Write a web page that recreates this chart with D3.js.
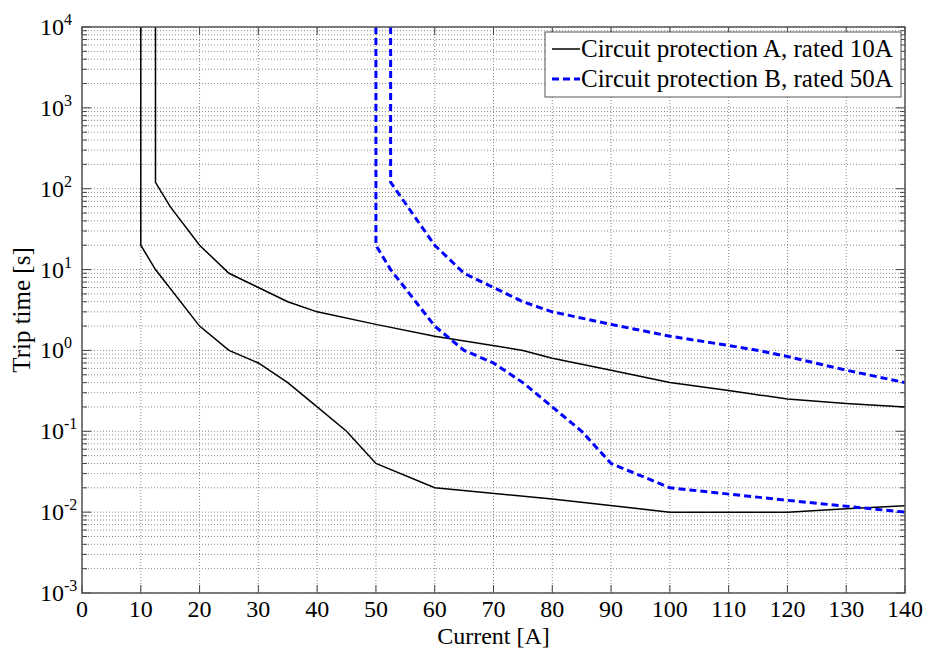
<!DOCTYPE html>
<html>
<head>
<meta charset="utf-8">
<script src="https://cdn.jsdelivr.net/npm/d3@7"></script>
<style>
  body { margin: 0; background: #fff; }
</style>
</head>
<body>
<svg width="925" height="648"></svg>
<script>
// breaker A, rated 10A: two bounding curves (current [A], trip time [s])
const aUpperCurrent = [12.5, 12.5, 15, 20, 25, 30, 35, 40, 50, 60, 75, 80, 90, 100, 110, 120, 130, 140]
const aUpperTime    = [1e4, 120, 60, 20, 9, 6, 4, 3, 2.1, 1.5, 1, 0.8, 0.57, 0.4, 0.32, 0.25, 0.22, 0.2]
const aLowerCurrent = [10, 10, 12.5, 20, 25, 30, 35, 40, 45, 50, 60, 80, 100, 120, 130, 140]
const aLowerTime    = [1e4, 20, 10, 2, 1, 0.7, 0.4, 0.2, 0.1, 0.04, 0.02, 0.0145, 0.01, 0.01, 0.011, 0.012]
// breaker B, rated 50A
const bUpperCurrent = [52.5, 52.5, 60, 65, 70, 75, 80, 90, 100, 110, 115, 120, 130, 140]
const bUpperTime    = [1e4, 120, 20, 9, 6, 4, 3, 2.1, 1.5, 1.15, 1, 0.84, 0.57, 0.4]
const bLowerCurrent = [50, 50, 52.5, 60, 65, 70, 75, 80, 85, 90, 100, 120, 140]
const bLowerTime    = [1e4, 20, 10, 2, 1, 0.7, 0.4, 0.2, 0.1, 0.04, 0.02, 0.014, 0.01]

const xTicks = d3.range(0, 141, 10)
const yDecades = [-3, -2, -1, 0, 1, 2, 3, 4]
const legendLabels = ['Circuit protection A, rated 10A', 'Circuit protection B, rated 50A']

const FONT = '"Liberation Serif"'

const svg = d3.select('svg')
const margin = {left: 82, top: 27, right: 20, bottom: 55}
const width = 925, height = 648

const xscale = d3.scaleLinear()
                 .domain([0, 140])
                 .range([margin.left, width - margin.right])
const yscale = d3.scaleLog()
                 .domain([1e-3, 1e4])
                 .range([height - margin.bottom, margin.top])

const x0 = xscale(0), x1 = xscale(140), y0 = yscale(1e-3), y1 = yscale(1e4)

// grid lines, dotted like matlab
const minorVals = []
yDecades.slice(0, -1).forEach(e => {
    for (let m = 1; m < 10; m++) minorVals.push(m * Math.pow(10, e))
})
minorVals.push(1e4)

const grid = svg.append('g')
grid.selectAll('.hgrid').data(minorVals).join('line')
    .attr('x1', x0).attr('x2', x1)
    .attr('y1', d => yscale(d)).attr('y2', d => yscale(d))
    .attr('stroke', '#8a8a8a').attr('stroke-width', 1)
    .attr('stroke-dasharray', '1,2')
grid.selectAll('.vgrid').data(xTicks).join('line')
    .attr('x1', d => xscale(d)).attr('x2', d => xscale(d))
    .attr('y1', y0).attr('y2', y1)
    .attr('stroke', '#8a8a8a').attr('stroke-width', 1)
    .attr('stroke-dasharray', '1,2')

// ticks on all four sides, inside
const ticks = svg.append('g').attr('stroke', '#444').attr('stroke-width', 1)
minorVals.forEach(v => {
    const lg10 = Math.log10(v)
    const major = Math.abs(lg10 - Math.round(lg10)) < 1e-9
    const len = major ? 9 : 5
    ticks.append('line').attr('x1', x0).attr('x2', x0 + len).attr('y1', yscale(v)).attr('y2', yscale(v))
    ticks.append('line').attr('x1', x1).attr('x2', x1 - len).attr('y1', yscale(v)).attr('y2', yscale(v))
})
xTicks.forEach(t => {
    ticks.append('line').attr('x1', xscale(t)).attr('x2', xscale(t)).attr('y1', y0).attr('y2', y0 - 8)
    ticks.append('line').attr('x1', xscale(t)).attr('x2', xscale(t)).attr('y1', y1).attr('y2', y1 + 8)
})

// curves
svg.append('defs').append('clipPath').attr('id', 'plotclip')
   .append('rect').attr('x', x0).attr('y', y1).attr('width', x1 - x0).attr('height', y0 - y1)

const line = d3.line().x(d => xscale(d[0])).y(d => yscale(d[1]))
const zip = (a, b) => a.map((v, i) => [v, b[i]])

const curves = svg.append('g').attr('clip-path', 'url(#plotclip)')
;[[aUpperCurrent, aUpperTime], [aLowerCurrent, aLowerTime]].forEach(([c, t]) => {
    curves.append('path').attr('d', line(zip(c, t)))
          .attr('fill', 'none').attr('stroke', '#000').attr('stroke-width', 1.5)
})
;[[bUpperCurrent, bUpperTime], [bLowerCurrent, bLowerTime]].forEach(([c, t]) => {
    curves.append('path').attr('d', line(zip(c, t)))
          .attr('fill', 'none').attr('stroke', '#0000ff').attr('stroke-width', 3)
          .attr('stroke-dasharray', '7,4')
})

// box
svg.append('rect').attr('x', x0).attr('y', y1).attr('width', x1 - x0).attr('height', y0 - y1)
   .attr('fill', 'none').attr('stroke', '#555').attr('stroke-width', 1.5)

// tick labels
svg.append('g').selectAll('text').data(xTicks).join('text')
   .attr('x', d => xscale(d)).attr('y', y0 + 24)
   .attr('text-anchor', 'middle').attr('font-size', 24)
   .style('font-family', FONT)
   .text(d => d)

const ylab = svg.append('g').selectAll('text').data(yDecades).join('text')
   .attr('y', d => yscale(Math.pow(10, d)) + 8)
   .attr('font-size', 24)
   .style('font-family', FONT)
ylab.append('tspan').attr('x', 40).text('10')
ylab.append('tspan').attr('dy', -10).attr('font-size', 16).text(d => d)

// axis titles
svg.append('text').attr('x', (x0 + x1) / 2).attr('y', 644)
   .attr('text-anchor', 'middle').attr('font-size', 24)
   .style('font-family', FONT).text('Current [A]')
svg.append('text').attr('transform', `translate(30,${(y0 + y1) / 2}) rotate(-90)`)
   .attr('text-anchor', 'middle').attr('font-size', 25)
   .style('font-family', FONT).text('Trip time [s]')

// legend
const lg = svg.append('g')
lg.append('rect').attr('x', 545).attr('y', 32).attr('width', 356).attr('height', 65)
  .attr('fill', '#fff').attr('stroke', '#555').attr('stroke-width', 1)
lg.append('line').attr('x1', 552).attr('x2', 580).attr('y1', 49).attr('y2', 49)
  .attr('stroke', '#000').attr('stroke-width', 1.5)
lg.append('line').attr('x1', 552).attr('x2', 580).attr('y1', 79).attr('y2', 79)
  .attr('stroke', '#0000ff').attr('stroke-width', 3).attr('stroke-dasharray', '7,4')
lg.selectAll('.lt').data(legendLabels).join('text')
  .attr('x', 581).attr('y', (d, i) => 57 + i * 30)
  .attr('font-size', 25)
  .style('font-family', FONT).text(d => d)
</script>
</body>
</html>
